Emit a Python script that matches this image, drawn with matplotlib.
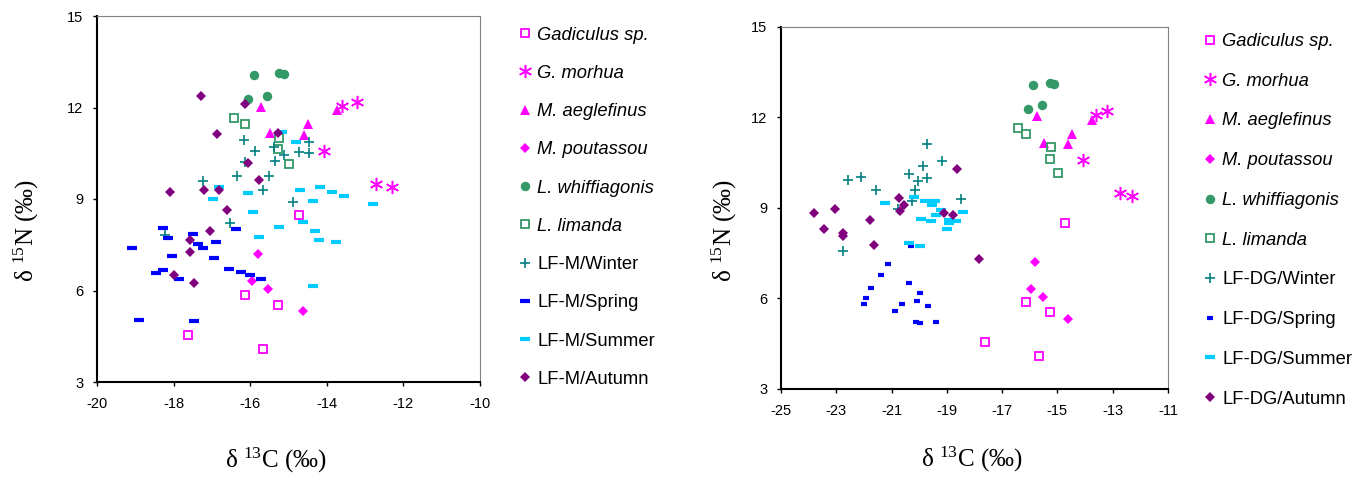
import matplotlib
matplotlib.use("Agg")
from matplotlib import pyplot as plt
import numpy as np

plt.rcParams['font.family'] = ['Liberation Sans', 'DejaVu Sans']
plt.rcParams['mathtext.fontset'] = 'custom'
plt.rcParams['mathtext.rm'] = 'Liberation Serif'
plt.rcParams['mathtext.default'] = 'regular'
plt.rcParams['axes.unicode_minus'] = False

# species (same values in both panels)
gadiculus_x = [-14.72, -16.13, -15.28, -17.63, -15.67]
gadiculus_y = [8.49, 5.86, 5.53, 4.54, 4.08]
morhua_x = [-13.61, -13.22, -14.07, -12.72, -12.29]
morhua_y = [12.06, 12.19, 10.58, 9.48, 9.40]
aeglefinus_x = [-15.73, -13.74, -15.48, -14.49, -14.60]
aeglefinus_y = [12.03, 11.92, 11.15, 11.45, 11.11]
poutassou_x = [-15.80, -15.96, -15.54, -14.62]
poutassou_y = [7.21, 6.31, 6.05, 5.32]
whiff_x = [-15.90, -15.26, -15.11, -16.07, -15.57]
whiff_y = [13.06, 13.14, 13.10, 12.28, 12.39]
limanda_x = [-16.42, -16.13, -15.24, -15.27, -14.98]
limanda_y = [11.65, 11.45, 11.00, 10.63, 10.14]

# LF-M (left panel)
m_winter_x = [-16.17, -15.87, -16.14, -15.37, -15.12, -15.34, -14.72, -14.47, -14.46,
              -16.35, -15.50, -15.66, -17.23, -14.87, -16.53, -18.23]
m_winter_y = [10.92, 10.58, 10.22, 10.71, 10.43, 10.25, 10.53, 10.86, 10.50,
              9.76, 9.76, 9.30, 9.60, 8.90, 8.20, 7.82]
m_spring_x = [-18.28, -18.15, -17.49, -17.36, -16.90, -17.22, -16.38, -19.09, -18.05, -16.94,
              -18.28, -18.47, -17.85, -16.55, -16.25, -16.01, -15.73, -18.90, -17.46]
m_spring_y = [8.04, 7.71, 7.84, 7.54, 7.59, 7.38, 8.03, 7.38, 7.14, 7.05,
              6.68, 6.56, 6.38, 6.72, 6.60, 6.51, 6.39, 5.03, 4.99]
m_summer_x = [-15.17, -14.80, -16.81, -16.96, -16.05, -15.92, -15.26, -14.70, -14.35, -14.18,
              -13.86, -13.55, -12.80, -15.76, -14.61, -14.31, -14.21, -13.76, -14.35]
m_summer_y = [11.19, 10.88, 9.38, 8.99, 9.20, 8.58, 8.08, 9.31, 8.94, 9.40,
              9.24, 9.10, 8.82, 7.76, 8.25, 7.96, 7.67, 7.59, 6.14]
m_autumn_x = [-17.28, -16.13, -16.87, -15.27, -16.07, -15.76, -18.09, -17.21, -16.82, -16.61,
              -17.05, -17.57, -17.57, -17.99, -17.47]
m_autumn_y = [12.39, 12.10, 11.12, 11.17, 10.17, 9.62, 9.23, 9.30, 9.31, 8.65,
              7.96, 7.65, 7.25, 6.50, 6.26]

# LF-DG (right panel)
dg_winter_x = [-19.73, -19.18, -19.87, -20.37, -20.04, -19.73, -22.56, -22.09, -21.55, -20.15,
               -20.26, -18.50, -22.77, -20.77]
dg_winter_y = [11.11, 10.56, 10.39, 10.11, 9.89, 9.97, 9.93, 10.02, 9.60, 9.59,
               9.21, 9.30, 7.55, 8.95]
dg_spring_x = [-21.13, -21.37, -21.73, -21.91, -22.00, -20.37, -19.96, -20.09, -20.63, -20.86,
               -19.68, -20.13, -19.96, -19.40, -20.28]
dg_spring_y = [7.13, 6.76, 6.34, 6.01, 5.81, 6.50, 6.17, 5.92, 5.80, 5.59,
               5.75, 5.22, 5.18, 5.21, 7.72]
dg_summer_x = [-21.25, -20.20, -19.79, -19.44, -19.52, -19.20, -19.38, -18.43, -19.92, -19.56,
               -18.93, -18.66, -18.92, -19.01, -20.38, -19.97]
dg_summer_y = [9.15, 9.35, 9.23, 9.23, 9.10, 8.93, 8.76, 8.86, 8.63, 8.56,
               8.60, 8.56, 8.50, 8.30, 7.84, 7.73]
dg_autumn_x = [-18.63, -20.73, -20.55, -20.68, -19.09, -18.78, -23.82, -23.04, -23.45, -21.78,
               -22.77, -22.77, -21.63, -17.84]
dg_autumn_y = [10.27, 9.31, 9.10, 8.90, 8.81, 8.77, 8.81, 8.97, 8.30, 8.60,
               8.15, 8.06, 7.76, 7.31]

species_labels = ['Gadiculus sp.', 'G. morhua', 'M. aeglefinus', 'M. poutassou',
                  'L. whiffiagonis', 'L. limanda']
season_names = ['Winter', 'Spring', 'Summer', 'Autumn']

magenta = '#FF00FF'
green = '#339966'
species_styles = [
    dict(marker='s', ms=5.5, mfc='none', mec=magenta, mew=1.3),
    dict(marker=(6, 2, 0), ms=9.5, mfc=magenta, mec=magenta, mew=1.1),
    dict(marker='^', ms=7, mfc=magenta, mec=magenta, mew=0),
    dict(marker='D', ms=5.5, mfc=magenta, mec=magenta, mew=0),
    dict(marker='o', ms=6.8, mfc=green, mec=green, mew=0),
    dict(marker='s', ms=5.5, mfc='none', mec=green, mew=1.3),
]


def season_styles(dash_w, spring_dash):
    return [
        dict(marker='+', ms=7.5, mec='#008080', mew=1.2),
        dict(marker='_', ms=spring_dash, mec='#0000FF', mew=3),
        dict(marker='_', ms=dash_w, mec='#00CCFF', mew=3),
        dict(marker='D', ms=5.5, mfc='#800080', mec='#800080', mew=0),
    ]


species = [(gadiculus_x, gadiculus_y), (morhua_x, morhua_y), (aeglefinus_x, aeglefinus_y),
           (poutassou_x, poutassou_y), (whiff_x, whiff_y), (limanda_x, limanda_y)]

W, H = 1372, 478
fig = plt.figure(figsize=(W / 100, H / 100), dpi=100)

ax1 = fig.add_axes([97 / W, 1 - 382 / H, 383 / W, 366 / H])
ax2 = fig.add_axes([781 / W, 1 - 388.7 / H, 387 / W, 362 / H])

panels = [
    (ax1, 'LF-M', [(m_winter_x, m_winter_y), (m_spring_x, m_spring_y),
                   (m_summer_x, m_summer_y), (m_autumn_x, m_autumn_y)],
     season_styles(7, 7), (-20, -10), np.arange(-20, -9, 2),
     (-0.185, 0.415), (0.467, -0.213), (517.8, 26.5, 1.16)),
    (ax2, 'LF-DG', [(dg_winter_x, dg_winter_y), (dg_spring_x, dg_spring_y),
                    (dg_summer_x, dg_summer_y), (dg_autumn_x, dg_autumn_y)],
     season_styles(6.5, 4), (-25, -11), np.arange(-25, -10, 2),
     (-0.147, 0.438), (0.494, -0.196), (1203, 33, 1.24)),
]

for ax, site, seasons, s_styles, xlim, xticks, ylab_pos, xlab_pos, leg_pos in panels:
    handles = []
    labels = []
    for (xs, ys), st, lab in zip(species, species_styles, species_labels):
        h, = ax.plot(xs, ys, ls='none', clip_on=False, **st)
        handles.append(h)
        labels.append(lab)
    for (xs, ys), st, name in zip(seasons, s_styles, season_names):
        h, = ax.plot(xs, ys, ls='none', clip_on=False, **st)
        handles.append(h)
        labels.append(site + '/' + name)

    ax.set_xlim(*xlim)
    ax.set_ylim(3, 15)
    ax.set_xticks(xticks)
    ax.set_yticks([3, 6, 9, 12, 15])
    ax.tick_params(direction='out', length=3, width=1, labelsize=10.5, pad=7)
    ax.tick_params(axis='x', pad=8)
    for side in ['top', 'right']:
        ax.spines[side].set_color('#808080')
        ax.spines[side].set_linewidth(0.8)
    for side in ['left', 'bottom']:
        ax.spines[side].set_color('black')
        ax.spines[side].set_linewidth(1.5)

    ax.set_ylabel(r'δ $^{15}$N (‰)', family='Liberation Serif', fontsize=18)
    ax.yaxis.label.set_va('center')
    ax.yaxis.set_label_coords(*ylab_pos)
    ax.set_xlabel(r'δ $^{13}$C (‰)', family='Liberation Serif', fontsize=18)
    ax.xaxis.label.set_va('center')
    ax.xaxis.set_label_coords(*xlab_pos)

    leg = fig.legend(handles, labels, loc='upper left',
                     bbox_to_anchor=(leg_pos[0] / W, 1 - leg_pos[1] / H),
                     frameon=False, fontsize=13.2, handlelength=0.75,
                     handletextpad=0.3, borderpad=0, borderaxespad=0,
                     labelspacing=leg_pos[2], numpoints=1)
    for t in leg.get_texts()[:6]:
        t.set_style('italic')

fig.savefig('out.png', dpi=100)
